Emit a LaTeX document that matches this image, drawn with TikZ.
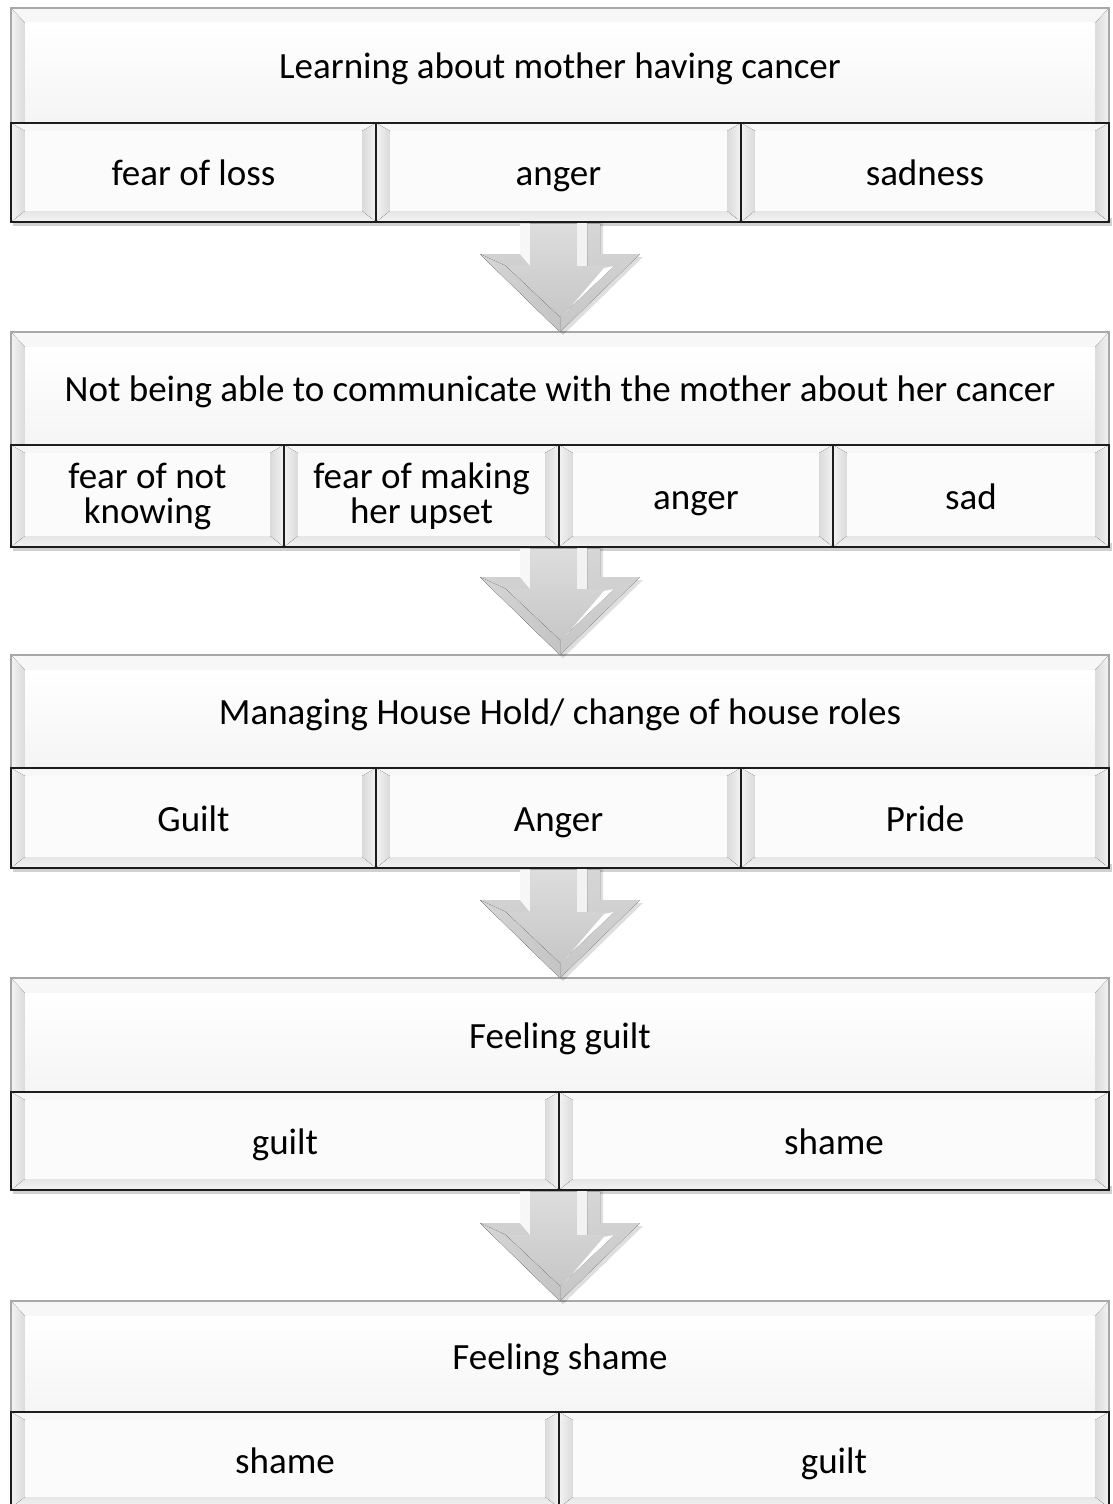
\documentclass[tikz,border=0pt]{standalone}
\usepackage{fontspec}
\setmainfont{Carlito}
\usetikzlibrary{calc}
\definecolor{hdrline}{HTML}{A8A8A8}
\definecolor{subline}{HTML}{1C1C1C}
\definecolor{bvtopc}{HTML}{F7F7F7}
\definecolor{bvdark}{HTML}{DADADA}
\definecolor{bvlight}{HTML}{F3F3F3}
\definecolor{bvbotc}{HTML}{E6E6E6}
\definecolor{arrtop}{HTML}{D6D6D6}
\definecolor{arrbot}{HTML}{C6C6C6}
\definecolor{arrfacetop}{HTML}{DDDDDD}
\definecolor{arrfacebot}{HTML}{C7C7C7}
\definecolor{arrslope}{HTML}{C4C4C4}
\tikzset{
  x=1pt, y=-1pt,
  txt/.style={inner sep=0pt, outer sep=0pt, align=center, text=black,
    font=\fontsize{37}{35}\selectfont},
  one/.style={text height=26pt, text depth=0pt},
  hdrbox/.style={txt, one, draw=hdrline, line width=1.6pt},
  subbox/.style={txt, draw=subline, line width=2.6pt},
  bvtop/.style={fill=bvtopc},
  bvleft/.style={left color=bvlight, right color=bvdark},
  bvright/.style={left color=bvdark, right color=bvlight},
  bvbot/.style={top color=bvbotc, bottom color=bvlight},
  hdrface/.style={top color=white, bottom color=black!4},
  subface/.style={fill=black!1.5},
  rowshadow/.style={fill=black, opacity=0.18},
  arrshadow/.style={fill=black, opacity=0.13},
  arrrim/.style={top color=arrtop, bottom color=arrbot},
  arrface/.style={top color=arrfacetop, bottom color=arrfacebot},
}
% bevel: x1 y1 x2 y2 lr top bottom facestyle
\newcommand\bevel[8]{%
  \fill[bvtop] (#1,#2) -- (#3,#2) -- ({#3-#5},{#2+#6}) -- ({#1+#5},{#2+#6}) -- cycle;
  \fill[bvleft] (#1,#2) -- ({#1+#5},{#2+#6}) -- ({#1+#5},{#4-#7}) -- (#1,#4) -- cycle;
  \fill[bvright] (#3,#2) -- ({#3-#5},{#2+#6}) -- ({#3-#5},{#4-#7}) -- (#3,#4) -- cycle;
  \fill[bvbot] (#1,#4) -- ({#1+#5},{#4-#7}) -- ({#3-#5},{#4-#7}) -- (#3,#4) -- cycle;
  \fill[#8] ({#1+#5},{#2+#6}) rectangle ({#3-#5},{#4-#7});
}
% header: name x1 y1 x2 y2 text
\newcommand\hdr[6]{%
  \bevel{#2}{#3}{#4}{#5}{14}{15}{0}{hdrface}
  \node[hdrbox, minimum width={#4-#2}, minimum height={#5-#3}] (#1) at ({(#2+#4)/2},{(#3+#5)/2}) {#6};
}
% sub cell: name x1 y1 x2 y2 text (single line)
\newcommand\subcell[6]{%
  \bevel{#2}{#3}{#4}{#5}{14}{8}{11}{subface}
  \node[subbox, one, minimum width={#4-#2}, minimum height={#5-#3}] (#1) at ({(#2+#4)/2},{(#3+#5)/2}) {#6};
}
% sub cell with two lines
\newcommand\subcellii[6]{%
  \bevel{#2}{#3}{#4}{#5}{14}{8}{11}{subface}
  \node[subbox, minimum width={#4-#2}, minimum height={#5-#3}] (#1) at ({(#2+#4)/2},{(#3+#5)/2}) {#6};
}
% row shadow: x1 x2 ybottom
\newcommand\rowshadow[3]{%
  \fill[rowshadow] ({#1+2},{#3-4}) rectangle ({#2+3},{#3+4});
}
% block arrow: top coordinate, tip coordinate
\newcommand\bigarrow[2]{%
  \fill[arrshadow] ($(#1)+(-37,0)$) -- ($(#2)+(-37,-75)$) -- ($(#2)+(-77,-75)$) -- ($(#2)+(3,3)$) -- ($(#2)+(83,-75)$) -- ($(#2)+(43,-75)$) -- ($(#1)+(43,0)$) -- cycle;
  % outer body
  \fill[arrrim] ($(#1)+(-40,0)$) -- ($(#2)+(-40,-78)$) -- ($(#2)+(-80,-78)$) -- (#2) -- ($(#2)+(80,-78)$) -- ($(#2)+(40,-78)$) -- ($(#1)+(40,0)$) -- cycle;
  % left shaft rim (light)
  \fill[white!97!black] ($(#1)+(-40,0)$) -- ($(#2)+(-40,-78)$) -- ($(#2)+(-30,-66)$) -- ($(#1)+(-30,0)$) -- cycle;
  % left slope rim
  \fill[left color=arrtop, right color=arrslope] ($(#2)+(-80,-78)$) -- (#2) -- ($(#2)+(0,-15)$) -- ($(#2)+(-54,-66)$) -- cycle;
  % inner face
  \fill[arrface] ($(#1)+(-30,0)$) -- ($(#2)+(-30,-66)$) -- ($(#2)+(-54,-66)$) -- ($(#2)+(0,-15)$) -- ($(#2)+(54,-66)$) -- ($(#2)+(27,-66)$) -- ($(#1)+(27,0)$) -- cycle;
  % shaft highlight strip
  \fill[white!95!black] ($(#1)+(17,0)$) rectangle ($(#2)+(27,-66)$);
  % right inner highlight
  \fill[white] ($(#2)+(0,-15)$) -- ($(#2)+(54,-66)$) -- ($(#2)+(44,-64)$) -- ($(#2)+(8,-22)$) -- cycle;
}
\begin{document}
\begin{tikzpicture}
\useasboundingbox[fill=white] (0,0) rectangle (1113,1504);

% ---------- Block 1
\rowshadow{11}{1109}{222}
\hdr{h1}{11}{8}{1109}{123}{Learning about mother having cancer}
\subcell{s1a}{11}{123}{376}{222}{fear of loss}
\subcell{s1b}{376}{123}{741}{222}{anger}
\subcell{s1c}{741}{123}{1109}{222}{sadness}

% ---------- Block 2
\rowshadow{11}{1109}{547}
\hdr{h2}{11}{332}{1109}{445}{Not being able to communicate with the mother about her cancer}
\subcellii{s2a}{11}{445}{284}{547}{fear of not\\knowing}
\subcellii{s2b}{284}{445}{559}{547}{fear of making\\her upset}
\subcell{s2c}{559}{445}{833}{547}{anger}
\subcell{s2d}{833}{445}{1109}{547}{sad}

% ---------- Block 3
\rowshadow{11}{1109}{868}
\hdr{h3}{11}{655}{1109}{768}{Managing House Hold/ change of house roles}
\subcell{s3a}{11}{768}{376}{868}{Guilt}
\subcell{s3b}{376}{768}{741}{868}{Anger}
\subcell{s3c}{741}{768}{1109}{868}{Pride}

% ---------- Block 4
\rowshadow{11}{1109}{1190}
\hdr{h4}{11}{978}{1109}{1092}{Feeling guilt}
\subcell{s4a}{11}{1092}{559}{1190}{guilt}
\subcell{s4b}{559}{1092}{1109}{1190}{shame}

% ---------- Block 5
\hdr{h5}{11}{1301}{1109}{1412}{Feeling shame}
\subcell{s5a}{11}{1412}{559}{1508}{shame}
\subcell{s5b}{559}{1412}{1109}{1508}{guilt}

% ---------- Arrows
\coordinate (t1) at ($(h1.center |- s1a.south)+(0,1.3)$);
\coordinate (t2) at ($(h2.center |- s2a.south)+(0,1.3)$);
\coordinate (t3) at ($(h3.center |- s3a.south)+(0,1.3)$);
\coordinate (t4) at ($(h4.center |- s4a.south)+(0,1.3)$);
\bigarrow{t1}{h2.north}
\bigarrow{t2}{h3.north}
\bigarrow{t3}{h4.north}
\bigarrow{t4}{h5.north}
\end{tikzpicture}
\end{document}
